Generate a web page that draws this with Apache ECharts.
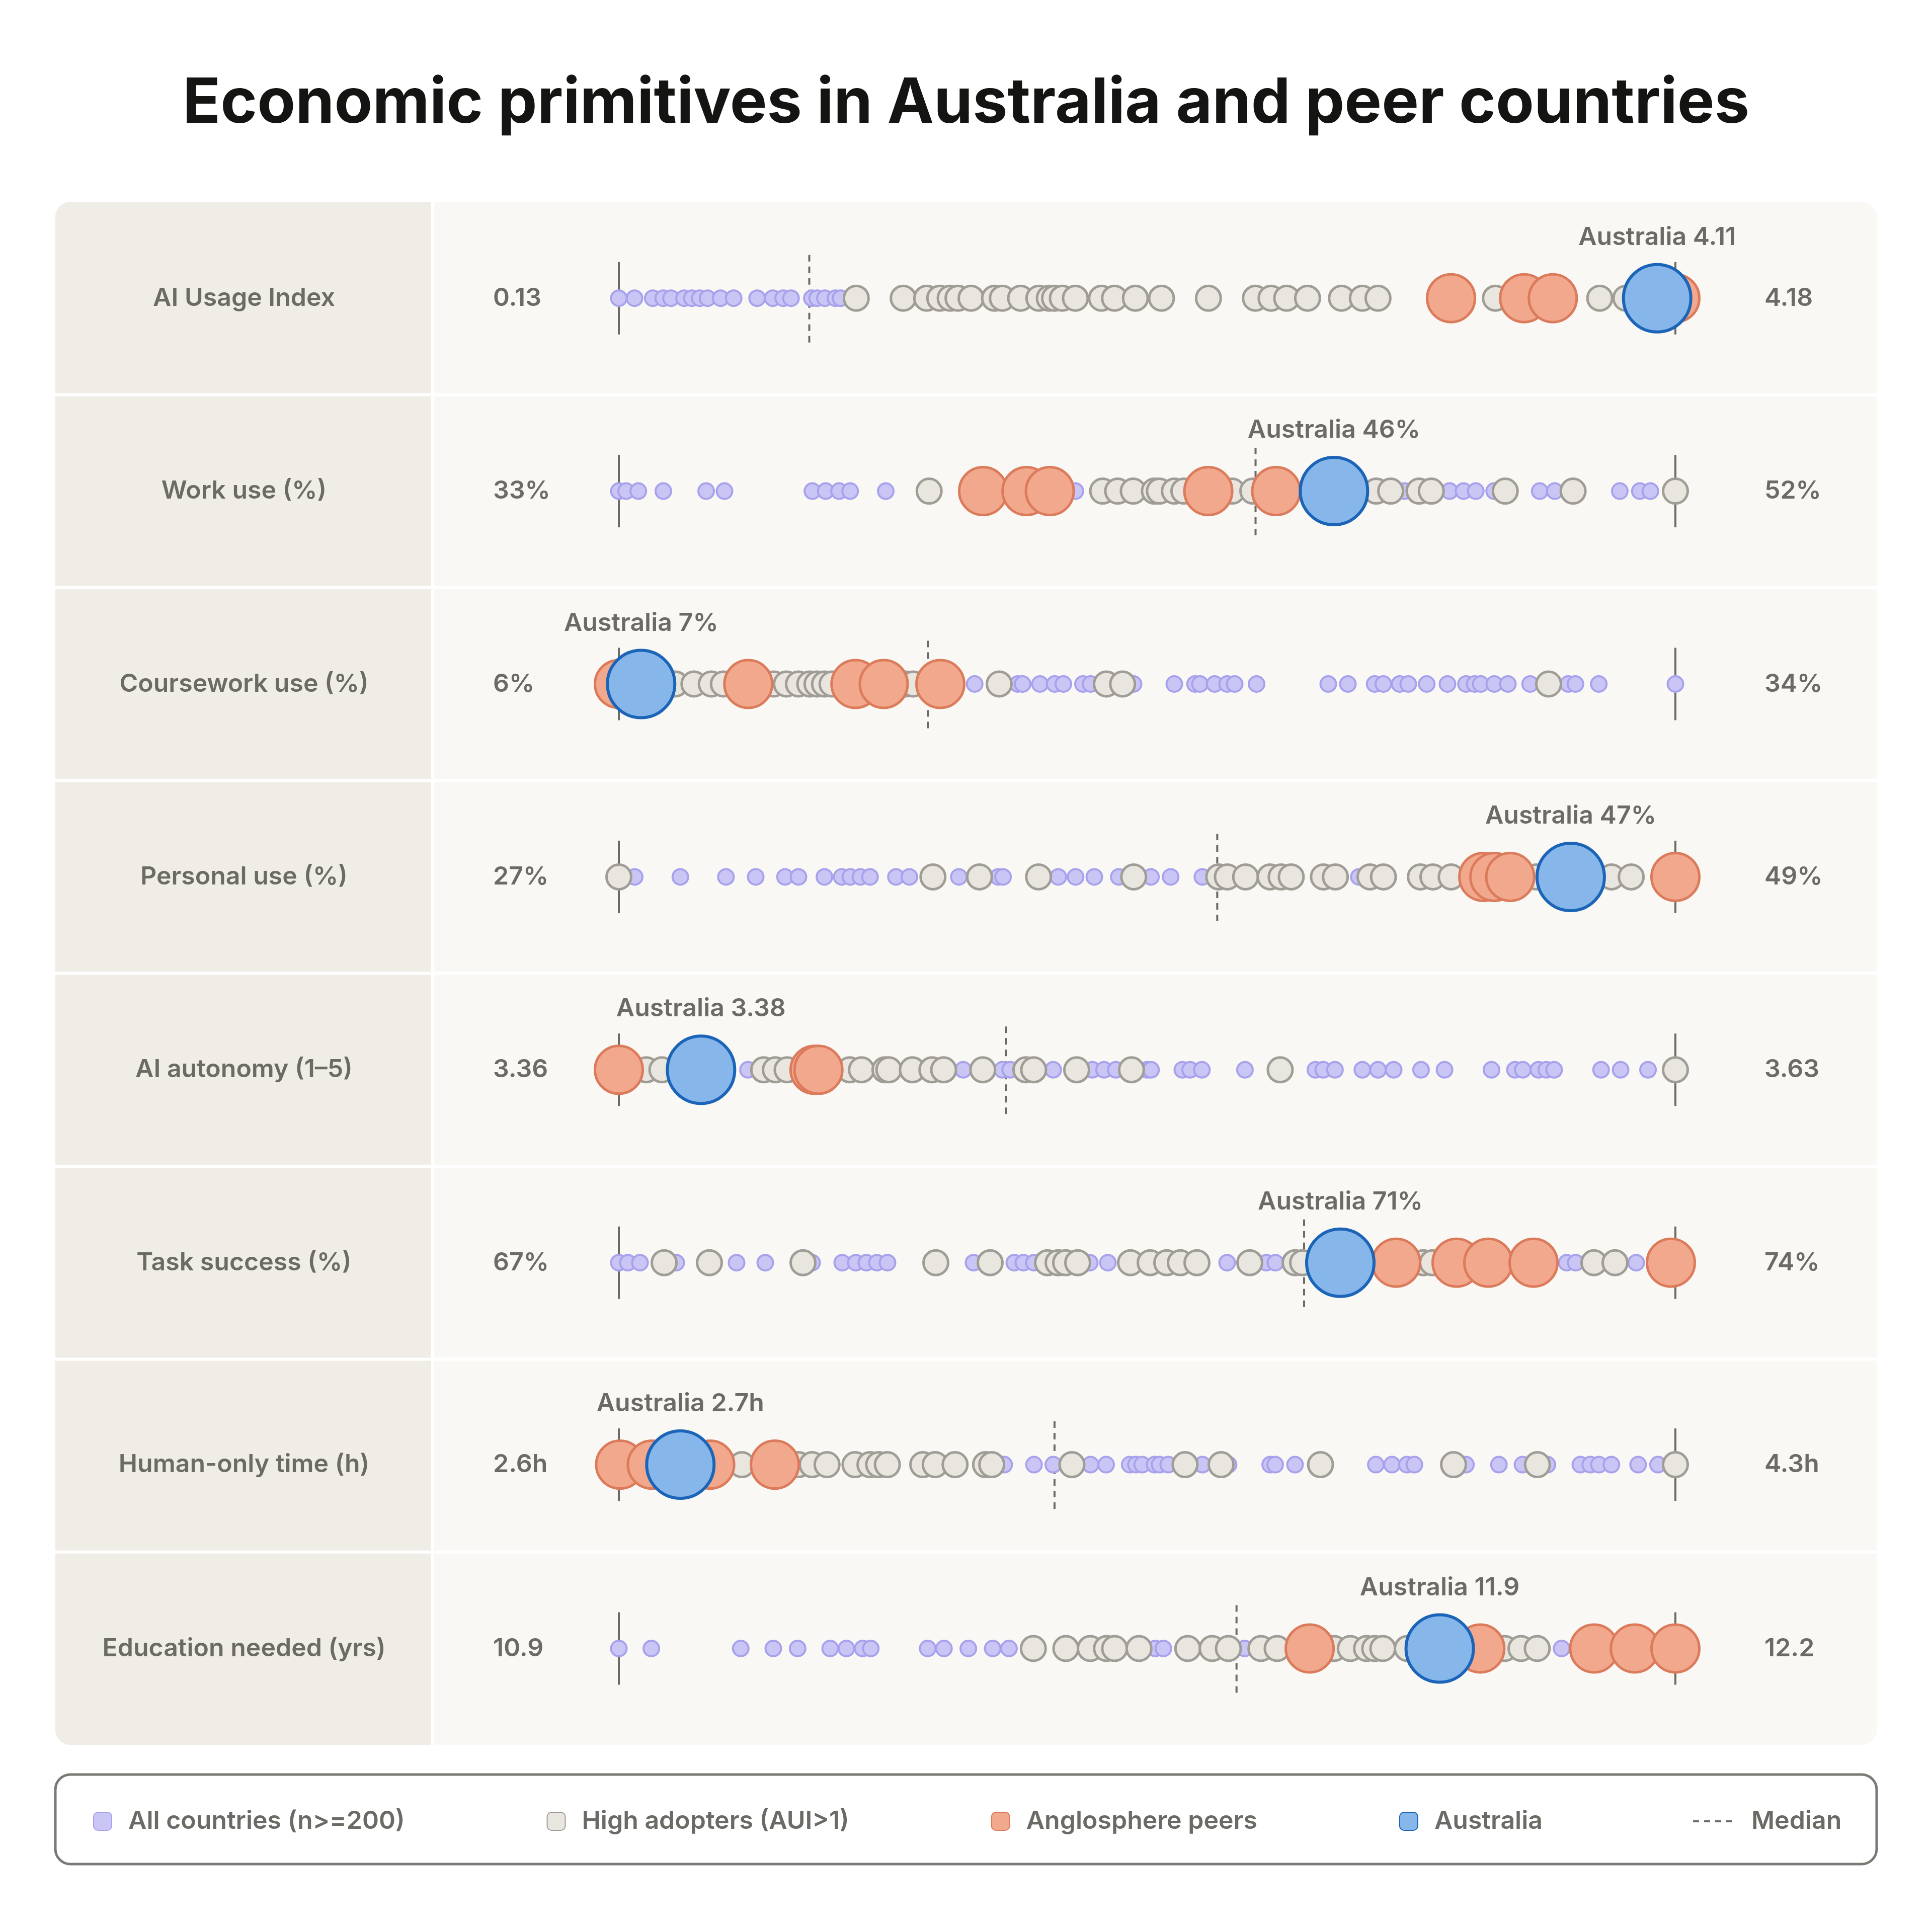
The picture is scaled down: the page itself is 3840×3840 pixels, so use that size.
<!DOCTYPE html>
<html>
<head>
<meta charset="utf-8">
<title>Economic primitives in Australia and peer countries</title>
<script src="https://cdn.jsdelivr.net/npm/echarts@6/dist/echarts.min.js"></script>
<style>
html, body { margin: 0; padding: 0; background: #ffffff; }
#main { width: 3840px; height: 3840px; }
</style>
</head>
<body>
<div id="main"></div>
<script>
// rows, top to bottom
var metrics = ['AI Usage Index', 'Work use (%)', 'Coursework use (%)', 'Personal use (%)',
    'AI autonomy (1\u20135)', 'Task success (%)', 'Human-only time (h)', 'Education needed (yrs)'];
var minLabels = ['0.13', '33%', '6%', '27%', '3.36', '67%', '2.6h', '10.9'];
var maxLabels = ['4.18', '52%', '34%', '49%', '3.63', '74%', '4.3h', '12.2'];
var axisMin = [0.13, 33, 6, 27, 3.36, 67, 2.6, 10.9];
var axisMax = [4.18, 52, 34, 49, 3.63, 74, 4.3, 12.2];
var medians = [0.86, 44.45, 14.19, 39.46, 3.459, 71.54, 3.301, 11.66];
var australia = [4.11, 45.86, 6.59, 46.82, 3.381, 71.78, 2.699, 11.91];
var australiaLabels = ['Australia 4.11', 'Australia 46%', 'Australia 7%', 'Australia 47%',
    'Australia 3.38', 'Australia 71%', 'Australia 2.7h', 'Australia 11.9'];

// all countries (n>=200) that are not high adopters
var allCountries = [
    [0.13,0.19,0.26,0.30,0.33,0.38,0.41,0.44,0.47,0.52,0.57,0.66,0.72,0.76,0.79,0.87,0.89,0.92,0.96,0.98],
    [33.0,33.13,33.35,33.8,34.57,34.9,36.48,36.72,36.96,37.16,37.8,41.21,44.25,47.13,47.94,48.19,48.41,48.74,49.56,49.83,51.0,51.36,51.55],
    [15.43,16.57,16.70,17.16,17.55,17.78,18.30,18.50,19.64,20.72,21.27,21.40,21.79,22.12,22.32,22.90,24.8,25.32,26.03,26.26,26.69,26.92,27.41,27.96,28.45,28.68,28.84,29.2,29.56,30.15,31.16,31.35,31.97,34.0],
    [27.33,28.28,29.23,29.85,30.46,30.74,31.28,31.64,31.82,32.03,32.23,32.77,33.05,34.08,34.9,35.0,36.15,36.51,36.9,37.41,38.08,38.49,39.15,42.41],
    [3.393,3.448,3.458,3.460,3.471,3.481,3.484,3.487,3.495,3.496,3.504,3.506,3.509,3.520,3.538,3.540,3.543,3.550,3.554,3.558,3.565,3.571,3.583,3.589,3.591,3.595,3.597,3.599,3.611,3.616,3.623],
    [67.0,67.06,67.14,67.38,67.78,67.97,68.28,68.48,68.57,68.64,68.71,68.78,69.35,69.62,69.68,69.75,70.12,70.24,71.03,71.29,71.35,73.28,73.34,73.74],
    [2.768,3.22,3.268,3.299,3.359,3.384,3.422,3.432,3.442,3.462,3.47,3.484,3.539,3.581,3.648,3.656,3.688,3.818,3.844,3.868,3.88,3.963,4.016,4.054,4.094,4.147,4.163,4.177,4.197,4.24,4.272],
    [10.9,10.94,11.05,11.09,11.12,11.16,11.18,11.2,11.21,11.28,11.3,11.33,11.36,11.38,11.56,11.57,11.67,12.06]
];
// high adopters (AUI>1)
var highAdopters = [
    [1.04,1.22,1.31,1.36,1.40,1.43,1.48,1.57,1.60,1.67,1.74,1.78,1.80,1.83,1.88,1.98,2.03,2.11,2.21,2.39,2.57,2.63,2.69,2.77,2.90,2.98,3.04,3.49,3.89,3.99],
    [38.58,41.70,41.97,42.25,42.63,42.72,42.99,43.16,44.03,44.40,46.62,46.88,47.39,47.61,48.94,50.16,52.0],
    [7.24,7.5,7.99,8.45,8.77,10.11,10.44,10.76,11.06,11.25,11.45,11.65,13.6,13.8,16.08,18.92,19.35,30.64],
    [27.0,33.54,34.51,35.74,37.72,39.49,39.67,40.05,40.56,40.79,41.0,41.67,41.92,42.64,42.92,43.69,43.95,44.33,46.1,47.67,48.08],
    [3.367,3.371,3.397,3.400,3.403,3.419,3.422,3.428,3.429,3.435,3.440,3.443,3.453,3.464,3.466,3.477,3.491,3.529,3.630],
    [67.3,67.6,68.22,69.1,69.46,69.84,69.91,69.96,70.04,70.39,70.52,70.63,70.72,70.83,71.18,71.48,71.53,72.33,72.39,73.46,73.6],
    [2.798,2.889,2.911,2.935,2.98,3.004,3.018,3.032,3.089,3.109,3.141,3.19,3.2,3.329,3.511,3.569,3.729,3.943,4.078,4.3],
    [11.41,11.45,11.48,11.5,11.51,11.54,11.6,11.63,11.65,11.69,11.71,11.78,11.8,11.82,11.83,11.84,11.87,11.99,12.01,12.03]
];
// anglosphere peers
var anglosphere = [
    [3.32,3.60,3.71,4.18],
    [39.55,40.33,40.75,43.6,44.82],
    [6.0,9.43,12.27,13.02,14.52],
    [45.0,45.23,45.56,49.0],
    [3.360,3.410,3.411],
    [72.15,72.55,72.76,73.06,73.97],
    [2.602,2.653,2.747,2.851],
    [11.75,11.96,12.1,12.15,12.2]
];

var TEXT = '#6b6a65';
var FONT = 'Inter, "Noto Sans", sans-serif';
var ROW_TOP = 401, ROW_H = 383.4, PLOT_L = 1230, PLOT_W = 2100;
var rowShift = [0, 0, 0, 0, 0, 0, 18, 0];

function rowY(i) {
    return ROW_TOP + (i + 0.5) * ROW_H + rowShift[i];
}
function dots(vals) {
    return vals.map(function (v) { return [v, 0]; });
}

var grids = [], xAxes = [], yAxes = [], series = [];
var graphics = [
    // panel + label column
    { type: 'rect', z: 0, shape: { x: 110, y: ROW_TOP, width: 3620, height: 8 * ROW_H, r: 30 }, style: { fill: '#f9f8f4' } },
    { type: 'rect', z: 0, shape: { x: 110, y: ROW_TOP, width: 750, height: 8 * ROW_H, r: [30, 0, 0, 30] }, style: { fill: '#f0ede6' } },
    { type: 'rect', z: 0, shape: { x: 857, y: ROW_TOP, width: 6, height: 8 * ROW_H }, style: { fill: '#ffffff' } },
    // legend box
    { type: 'rect', z: 0, shape: { x: 110, y: 3527, width: 3620, height: 178, r: 30 }, style: { fill: '#ffffff', stroke: '#7a7974', lineWidth: 5 } }
];

for (var k = 1; k < 8; k++) {
    graphics.push({ type: 'rect', z: 0, shape: { x: 110, y: ROW_TOP + k * ROW_H - 3, width: 3620, height: 6 }, style: { fill: '#ffffff' } });
}

metrics.forEach(function (name, i) {
    var cy = rowY(i);
    grids.push({ left: PLOT_L, width: PLOT_W, top: cy - 100, height: 200 });
    xAxes.push({ type: 'value', gridIndex: i, min: axisMin[i], max: axisMax[i], show: false });
    yAxes.push({ type: 'value', gridIndex: i, min: -1, max: 1, show: false });

    graphics.push({ type: 'text', z: 10, x: 485, y: cy, style: { text: name, fill: TEXT, fontSize: 50, fontWeight: 600, fontFamily: FONT, textAlign: 'center', textVerticalAlign: 'middle' } });
    graphics.push({ type: 'text', z: 10, x: 980, y: cy, style: { text: minLabels[i], fill: TEXT, fontSize: 50, fontWeight: 600, fontFamily: FONT, textAlign: 'left', textVerticalAlign: 'middle' } });
    graphics.push({ type: 'text', z: 10, x: 3507, y: cy, style: { text: maxLabels[i], fill: TEXT, fontSize: 50, fontWeight: 600, fontFamily: FONT, textAlign: 'left', textVerticalAlign: 'middle' } });

    // min / max ticks
    [axisMin[i], axisMax[i]].forEach(function (v) {
        series.push({
            type: 'line', xAxisIndex: i, yAxisIndex: i, silent: true, symbol: 'none', z: 1,
            data: [[v, -0.72], [v, 0.72]],
            lineStyle: { color: TEXT, width: 4 }
        });
    });
    series.push({
        name: 'Median', type: 'line', xAxisIndex: i, yAxisIndex: i, silent: true, symbol: 'none', z: 1,
        data: [[medians[i], -0.88], [medians[i], 0.88]],
        lineStyle: { color: TEXT, width: 4, type: [13, 10] }
    });

    series.push({
        name: 'All countries (n>=200)', type: 'scatter', xAxisIndex: i, yAxisIndex: i, z: 2,
        symbolSize: 31, data: dots(allCountries[i]),
        itemStyle: { color: '#c9c6f6', borderColor: '#a8a1ec', borderWidth: 4, opacity: 1 }
    });
    series.push({
        name: 'High adopters (AUI>1)', type: 'scatter', xAxisIndex: i, yAxisIndex: i, z: 3,
        symbolSize: 49, data: dots(highAdopters[i]),
        itemStyle: { color: '#e8e6df', borderColor: '#a09d96', borderWidth: 5, opacity: 1 }
    });
    series.push({
        name: 'Anglosphere peers', type: 'scatter', xAxisIndex: i, yAxisIndex: i, z: 4,
        symbolSize: 95, data: dots(anglosphere[i]),
        itemStyle: { color: '#f1a88d', borderColor: '#dc7b5c', borderWidth: 5, opacity: 1 }
    });
    series.push({
        name: 'Australia', type: 'scatter', xAxisIndex: i, yAxisIndex: i, z: 5,
        symbolSize: 134, data: dots([australia[i]]),
        itemStyle: { color: '#87b7ea', borderColor: '#1b64b7', borderWidth: 6, opacity: 1 },
        label: {
            show: true, position: 'top', distance: 26, formatter: australiaLabels[i],
            color: TEXT, fontSize: 50, fontWeight: 600, fontFamily: FONT
        }
    });
});

var legendText = { color: TEXT, fontSize: 50, fontWeight: 600, fontFamily: FONT, padding: [0, 0, 0, 28] };

var chart = echarts.init(document.getElementById('main'), null, { renderer: 'canvas' });
chart.setOption({
    backgroundColor: '#ffffff',
    animation: false,
    title: {
        text: 'Economic primitives in Australia and peer countries',
        left: 'center', top: 140,
        textStyle: { color: '#141413', fontSize: 124, fontWeight: 700, fontFamily: FONT }
    },
    graphic: { elements: graphics },
    legend: [{
        data: ['All countries (n>=200)', 'High adopters (AUI>1)', 'Anglosphere peers', 'Australia'],
        left: 180, top: 3590, itemWidth: 36, itemHeight: 36, itemGap: 282,
        icon: 'roundRect', selectedMode: false, textStyle: legendText
    }, {
        data: [{
            name: 'Median',
            icon: 'path://M0,0h12v4h-12z M22,0h12v4h-12z M44,0h12v4h-12z M66,0h12v4h-12z',
            itemStyle: { color: TEXT, borderWidth: 0 }
        }],
        left: 3360, top: 3590, itemWidth: 88, itemHeight: 4,
        selectedMode: false, textStyle: legendText
    }],
    grid: grids,
    xAxis: xAxes,
    yAxis: yAxes,
    series: series
});
</script>
</body>
</html>
